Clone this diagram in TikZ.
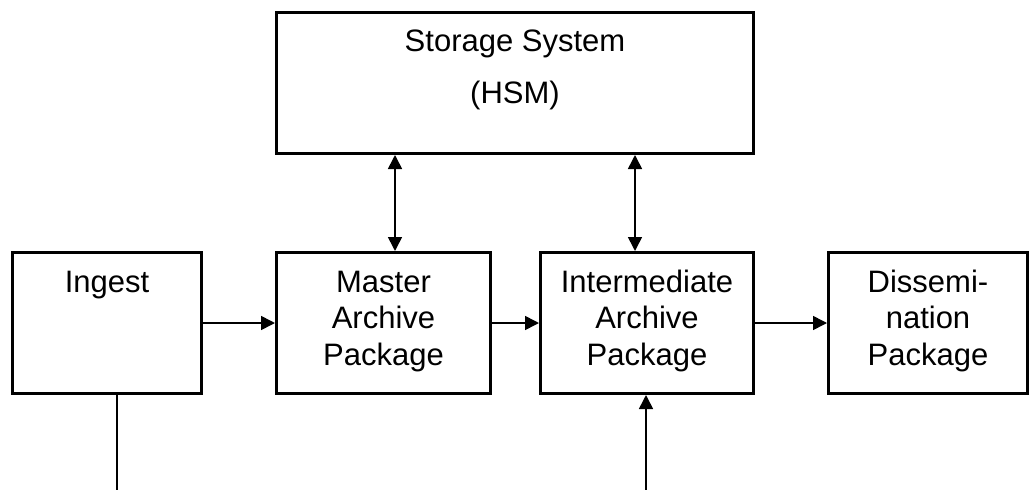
\documentclass[tikz,border=0pt]{standalone}
\usepackage{fontspec}
\setmainfont{Liberation Sans}
\usetikzlibrary{arrows.meta}
\begin{document}
\begin{tikzpicture}[x=1pt,y=-1pt,
  box/.style={draw,line width=3pt,inner sep=0pt},
  lbl/.style={anchor=base,inner sep=0pt,font=\fontsize{31}{36}\selectfont},
  conn/.style={line width=1.6pt},
  arr/.style={conn,-{Triangle[length=14pt,width=14pt]}},
  darr/.style={conn,{Triangle[length=14pt,width=14pt]}-{Triangle[length=14pt,width=14pt]}}]
\useasboundingbox (0,0) rectangle (1031,490);
% boxes
\node[box,minimum width=477pt,minimum height=141pt] (storage) at (515,83) {};
\node[box,minimum width=189pt,minimum height=141pt] (ingest) at (107,323) {};
\node[box,minimum width=214pt,minimum height=141pt] (master) at (383.5,323) {};
\node[box,minimum width=213pt,minimum height=141pt] (inter) at (647,323) {};
\node[box,minimum width=199pt,minimum height=141pt] (dissem) at (928,323) {};
% labels
\node[lbl] (t1) at (515,51.7) {Storage System};
\node[lbl] (t2) at (515,103.3) {(HSM)};
\node[lbl] (t3) at (107,292) {Ingest};
\node[lbl] (t4) at (383.5,292) {Master};
\node[lbl] (t5) at (383.5,328.5) {Archive};
\node[lbl] (t6) at (383.5,365) {Package};
\node[lbl] (t7) at (647,292) {Intermediate};
\node[lbl] (t8) at (647,328.5) {Archive};
\node[lbl] (t9) at (647,365) {Package};
\node[lbl] (t10) at (928,292) {Dissemi-};
\node[lbl] (t11) at (928,328.5) {nation};
\node[lbl] (t12) at (928,365) {Package};
% helper coordinates
\coordinate (cm) at (395,0);
\coordinate (ci) at (635,0);
\coordinate (ingbot) at (117,490);
\coordinate (intbot) at (646,490);
% connectors
\draw[arr] (ingest.east) -- (master.west);
\draw[arr] (master.east) -- (inter.west);
\draw[arr] (inter.east) -- (dissem.west);
\draw[darr] (storage.south -| cm) -- (master.north -| cm);
\draw[darr] (storage.south -| ci) -- (inter.north -| ci);
\draw[conn] (ingest.south -| ingbot) -- (ingbot);
\draw[arr] (intbot) -- (inter.south -| intbot);
\end{tikzpicture}
\end{document}
